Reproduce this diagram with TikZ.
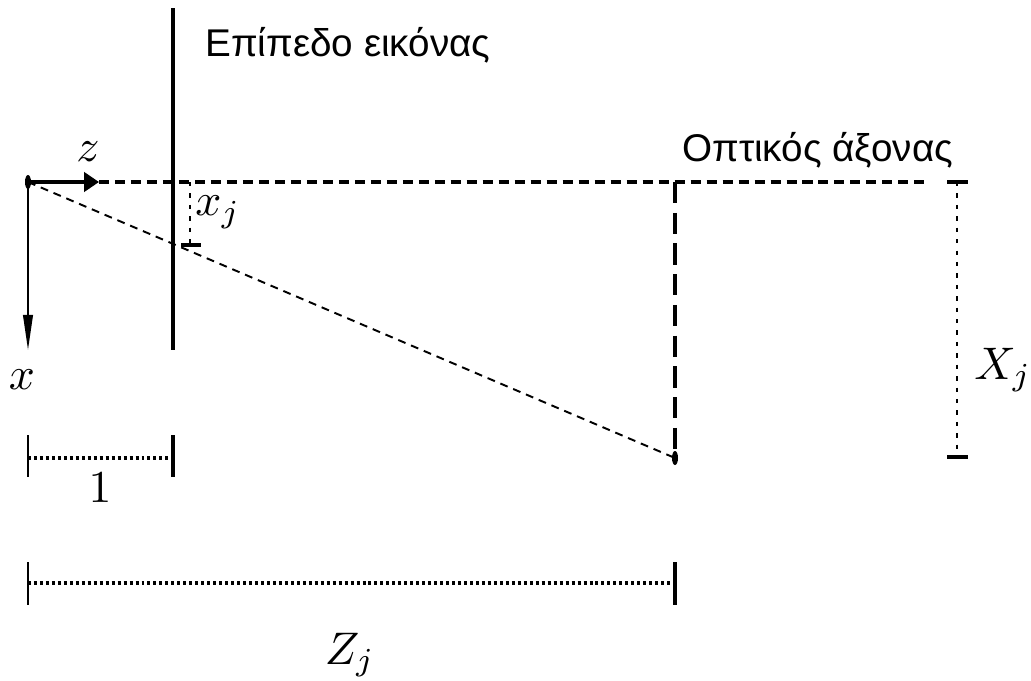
\documentclass[tikz,border=0pt]{standalone}
\usepackage{fontspec}
\newfontfamily\greekfont{Liberation Sans}
\usetikzlibrary{arrows.meta,calc}
\tikzset{
  plane/.style={line width=1.9pt},
  axisarr/.style={line width=1.9pt, -{Triangle[length=8.5pt,width=11pt]}},
  thinarr/.style={line width=1.1pt, -{Triangle[length=20pt,width=5.5pt]}},
  optaxis/.style={line width=2pt, dash pattern=on 5.7pt off 3.4pt},
  ray/.style={line width=1.1pt, dash pattern=on 4.5pt off 3.4pt},
  depth/.style={line width=1.9pt, dash pattern=on 12pt off 5.5pt},
  meas/.style={line width=1.1pt, dash pattern=on 2.5pt off 4pt},
  scalebar/.style={line width=1.8pt, dash pattern=on 1.7pt off 1.7pt},
  tick/.style={line width=1.9pt},
  thintick/.style={line width=1.2pt},
  mathlbl/.style={scale=2.6, inner sep=0pt},
  greeklbl/.style={font=\greekfont\fontsize{22}{26}\selectfont, inner sep=0pt, anchor=west}
}
\begin{document}
\begin{tikzpicture}[x=0.02cm, y=-0.02cm]
  \useasboundingbox (0,0) rectangle (1031,680);

  % centre of projection and scene point
  \coordinate (O) at (28,182);
  \coordinate (P) at (675,458);
  \coordinate (zend) at (99,182);
  \coordinate (xend) at (28,350);
  \coordinate (planetop) at (173,8);
  \coordinate (planebot) at (173,350);
  \coordinate (axisend) at (925,182);
  \coordinate (Pax) at (675,182);
  \coordinate (xjtop) at (190,182);
  \coordinate (xjbot) at (190,245);
  \coordinate (Xjtop) at (957,182);
  \coordinate (Xjbot) at (957,457);

  % axes
  \draw[axisarr] (O) -- (zend);
  \draw[thinarr] (O) -- (xend);
  \node[mathlbl] (zlbl) at (88,152) {$z$};
  \node[mathlbl] (xlbl) at (22,380) {$x$};

  % image plane
  \draw[plane] (planetop) -- (planebot);
  \node[greeklbl] (planelbl) at (205,45) {Επίπεδο εικόνας};

  % optical axis
  \draw[optaxis] (zend) -- (axisend);
  \node[greeklbl] (axislbl) at (682,150) {Οπτικός άξονας};

  % projection ray
  \draw[ray] (O) -- (P);
  \draw[depth] (Pax) -- (P);
  \fill (O) ellipse [x radius=3, y radius=7];
  \fill (P) ellipse [x radius=3, y radius=7];

  % x_j
  \draw[meas] (xjtop) -- (xjbot);
  \draw[tick] ($(xjbot)+(-9,0)$) -- ($(xjbot)+(11,0)$);
  \node[mathlbl] (xjlbl) at (218,212) {$x_j$};

  % X_j
  \draw[meas] (Xjtop) -- (Xjbot);
  \draw[tick] ($(Xjtop)+(-10,0)$) -- ($(Xjtop)+(11,0)$);
  \draw[tick] ($(Xjbot)+(-10,0)$) -- ($(Xjbot)+(11,0)$);
  \node[mathlbl] (Xjlbl) at (1003,370) {$X_j$};

  % unit length
  \coordinate (ua) at (28,458);
  \coordinate (ub) at (173,458);
  \draw[scalebar] (ua) -- (ub);
  \draw[thintick] ($(ua)+(0,-23)$) -- ($(ua)+(0,19)$);
  \draw[tick] ($(ub)+(0,-23)$) -- ($(ub)+(0,19)$);
  \node[mathlbl] (onelbl) at (100,488) {$1$};

  % Z_j
  \coordinate (Za) at (28,583);
  \coordinate (Zb) at (675,583);
  \draw[scalebar] (Za) -- (Zb);
  \draw[thintick] ($(Za)+(0,-21)$) -- ($(Za)+(0,22)$);
  \draw[tick] ($(Zb)+(0,-21)$) -- ($(Zb)+(0,22)$);
  \node[mathlbl] (Zjlbl) at (350,655) {$Z_j$};
\end{tikzpicture}
\end{document}
